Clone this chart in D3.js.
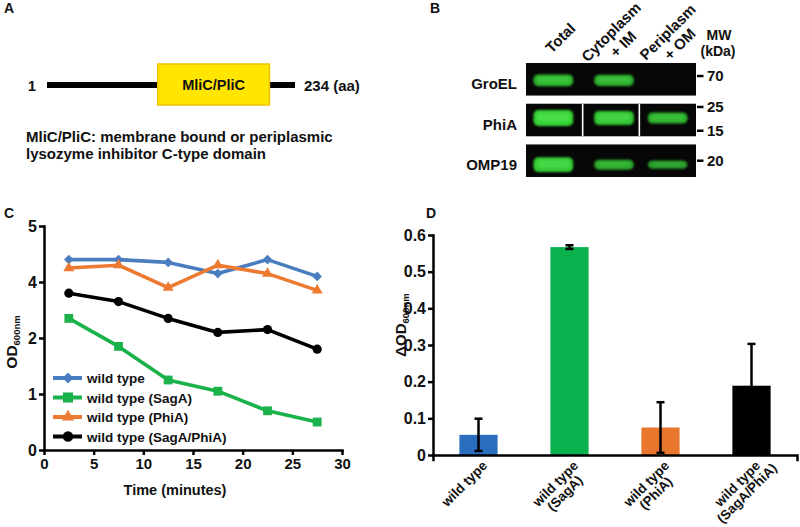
<!DOCTYPE html>
<html>
<head>
<meta charset="utf-8">
<script src="https://cdn.jsdelivr.net/npm/d3@7/dist/d3.min.js"></script>
<style>
  html,body{margin:0;padding:0;background:#fff;}
  svg{display:block;}
  text{font-family:Arial,"Liberation Sans",Helvetica,sans-serif;font-weight:bold;fill:#111;}
</style>
</head>
<body>
<svg id="fig" width="800" height="527"></svg>
<script>
// ================= DATA =================
// Panel A
const proteinLength = 234;
const domainName = "MliC/PliC";
const domainSpan = [105, 210];
const captionLines = ["MliC/PliC: membrane bound or periplasmic", "lysozyme inhibitor C-type domain"];

// Panel B
const blotLanes = ["Total", "Cytoplasm\n+ IM", "Periplasm\n+ OM"];
const blotRows = ["GroEL", "PhiA", "OMP19"];
const bandGroEL = [0.65, 0.6, 0];
const bandPhiA = [1, 0.85, 0.6];
const bandOMP19 = [0.9, 0.5, 0.35];
const mwLabels = ["70", "25", "15", "20"];

// Panel C (the reference axis is labelled 0, 1, 2, 4, 5 at even spacing)
const timeMinutes = [2.5, 7.5, 12.5, 17.5, 22.5, 27.5];
const odWildType = [4.4, 4.4, 4.35, 4.15, 4.4, 4.1];
const odSagA = [2.7, 1.85, 1.25, 1.05, 0.7, 0.5];
const odPhiA = [4.25, 4.3, 3.8, 4.3, 4.15, 3.7];
const odSagAPhiA = [3.6, 3.3, 2.7, 2.2, 2.3, 1.8];
const seriesNames = ["wild type", "wild type (SagA)", "wild type (PhiA)", "wild type (SagA/PhiA)"];
const timeTicks = [0, 5, 10, 15, 20, 25, 30];
const odTicks = [0, 1, 2, 4, 5];

// Panel D
const strainLabels = ["wild type", "wild type\n(SagA)", "wild type\n(PhiA)", "wild type\n(SagA/PhiA)"];
const deltaOD = [0.055, 0.567, 0.075, 0.189];
const deltaODErr = [0.044, 0.005, 0.069, 0.114];
const deltaTicks = [0, 0.1, 0.2, 0.3, 0.4, 0.5, 0.6];

// ================= STYLE =================
const seriesColors = ["#4a7dbf", "#1cb24b", "#ec7a30", "#000000"];
const barColors = ["#2a6ebd", "#0bb14c", "#e8762d", "#000000"];

const svg = d3.select("#fig");
const defs = svg.append("defs");
defs.append("filter").attr("id", "blur").attr("x", "-30%").attr("y", "-80%").attr("width", "160%").attr("height", "260%")
  .append("feGaussianBlur").attr("stdDeviation", 1.3);

// panel letters
const panelLetters = ["A", "B", "C", "D"];
const letterPos = [[4, 13], [430, 13], [4, 218], [426, 218]];
svg.selectAll("text.plabel").data(panelLetters).join("text").attr("class", "plabel")
  .attr("x", (d, i) => letterPos[i][0]).attr("y", (d, i) => letterPos[i][1])
  .attr("font-size", 14).text(d => d);

// ================= PANEL A =================
const gA = svg.append("g");
const xA = d3.scaleLinear().domain([1, proteinLength]).range([47, 295]);
gA.append("line").attr("x1", xA(1)).attr("x2", xA(proteinLength)).attr("y1", 85).attr("y2", 85)
  .attr("stroke", "#000").attr("stroke-width", 6);
gA.append("rect").attr("x", xA(domainSpan[0])).attr("y", 64)
  .attr("width", xA(domainSpan[1]) - xA(domainSpan[0])).attr("height", 41)
  .attr("fill", "#ffe500").attr("stroke", "#eec400").attr("stroke-width", 1.5);
gA.append("text").attr("x", (xA(domainSpan[0]) + xA(domainSpan[1])) / 2).attr("y", 90)
  .attr("text-anchor", "middle").attr("font-size", 14.5).text(domainName);
gA.append("text").attr("x", 36).attr("y", 90.5).attr("text-anchor", "end").attr("font-size", 15).text("1");
gA.append("text").attr("x", 304).attr("y", 90.5).attr("font-size", 15).text(proteinLength + " (aa)");
gA.selectAll("text.cap").data(captionLines).join("text").attr("class", "cap")
  .attr("x", 26).attr("y", (d, i) => 142 + i * 17.3).attr("font-size", 15).text(d => d);

// ================= PANEL B =================
const gB = svg.append("g");
const xB = d3.scaleBand().domain(blotLanes).range([526, 696]);
const yB = d3.scaleBand().domain(blotRows).range([63, 177]).paddingInner(0.2);
blotRows.forEach(r => {
  gB.append("rect").attr("x", 526).attr("y", yB(r)).attr("width", 170).attr("height", yB.bandwidth()).attr("fill", "#070707");
});
const bandSets = [bandGroEL, bandPhiA, bandOMP19];
const rowShift = [1, -2, 4];
const laneShift = [-1, 3, 0];
bandSets.forEach((set, ri) => {
  const rc = yB(blotRows[ri]) + yB.bandwidth() / 2 + rowShift[ri];
  set.forEach((v, li) => {
    if (v <= 0) return;
    const lc = xB(blotLanes[li]) + xB.bandwidth() / 2 + laneShift[li];
    const w = xB.bandwidth() * 0.7, h = 4 + 12 * v;
    gB.append("rect").attr("x", lc - w / 2).attr("y", rc - h / 2).attr("width", w).attr("height", h)
      .attr("rx", 5).attr("fill", "#36d336").attr("opacity", 0.55 + 0.45 * v).attr("filter", "url(#blur)");
    gB.append("rect").attr("x", lc - w * 0.4).attr("y", rc - h * 0.3).attr("width", w * 0.8).attr("height", h * 0.5)
      .attr("rx", 3).attr("fill", "#5fe85f").attr("opacity", 0.5 * v).attr("filter", "url(#blur)");
  });
});
// white separators in PhiA blot
blotLanes.slice(1).forEach(l => {
  gB.append("line").attr("x1", xB(l)).attr("x2", xB(l)).attr("y1", yB("PhiA")).attr("y2", yB("PhiA") + yB.bandwidth())
    .attr("stroke", "#fff").attr("stroke-width", 1.6);
});
gB.selectAll("text.row").data(blotRows).join("text").attr("class", "row")
  .attr("x", 517).attr("y", r => yB(r) + yB.bandwidth() / 2 + 9.5)
  .attr("text-anchor", "end").attr("font-size", 15).text(d => d);
const mwRow = ["GroEL", "PhiA", "PhiA", "OMP19"];
const mwFrac = [0.4, 0.1, 0.83, 0.5];
mwLabels.forEach((m, i) => {
  const y = yB(mwRow[i]) + yB.bandwidth() * mwFrac[i];
  gB.append("line").attr("x1", 697).attr("x2", 703.5).attr("y1", y).attr("y2", y).attr("stroke", "#000").attr("stroke-width", 2.5);
  gB.append("text").attr("x", 707).attr("y", y + 5.3).attr("font-size", 15).text(m);
});
gB.append("text").attr("x", 719).attr("y", 40).attr("text-anchor", "middle").attr("font-size", 14).text("MW");
gB.append("text").attr("x", 718).attr("y", 56).attr("text-anchor", "middle").attr("font-size", 14).text("(kDa)");
blotLanes.forEach(l => {
  const lines = l.split("\n");
  const cx = xB(l) + xB.bandwidth() / 2 + 6, cy = 38;
  const g = gB.append("g").attr("transform", `translate(${cx},${cy}) rotate(-45)`);
  lines.forEach((t, i) => g.append("text").attr("x", 0).attr("y", (i - (lines.length - 1) / 2) * 17 + 5.3)
    .attr("text-anchor", "middle").attr("font-size", 15).text(t));
});

// ================= PANEL C =================
const gC = svg.append("g");
const xC = d3.scaleLinear().domain([0, 30]).range([44, 342]);
// piecewise-linear scale: the labelled ticks 0,1,2,4,5 are evenly spaced in the reference
const yC = d3.scaleLinear().domain(odTicks).range(odTicks.map((d, i) => 450 - i * 56));

function styleAxis(g, fs) {
  g.select(".domain").attr("stroke", "#000").attr("stroke-width", 2.5).attr("stroke-linecap", "square");
  g.selectAll(".tick line").attr("stroke", "#000").attr("stroke-width", 2.5);
  g.selectAll(".tick text").attr("font-size", fs).attr("fill", "#111");
}
const seriesC = [
  { name: seriesNames[0], values: odWildType, color: seriesColors[0], sym: d3.symbolSquare, size: 46, rot: 45 },
  { name: seriesNames[1], values: odSagA, color: seriesColors[1], sym: d3.symbolSquare, size: 78, rot: 0 },
  { name: seriesNames[2], values: odPhiA, color: seriesColors[2], sym: d3.symbolTriangle, size: 52, rot: 0 },
  { name: seriesNames[3], values: odSagAPhiA, color: seriesColors[3], sym: d3.symbolCircle, size: 66, rot: 0 }
];
const lineC = d3.line().x((d, i) => xC(timeMinutes[i])).y(d => yC(d));
seriesC.forEach(s => {
  gC.append("path").datum(s.values).attr("d", lineC).attr("fill", "none").attr("stroke", s.color)
    .attr("stroke-width", 3.6).attr("stroke-linejoin", "round");
  gC.append("g").selectAll("path").data(s.values).join("path")
    .attr("transform", (d, i) => `translate(${xC(timeMinutes[i])},${yC(d)}) rotate(${s.rot})`)
    .attr("d", d3.symbol(s.sym, s.size)).attr("fill", s.color);
});
const axCx = gC.append("g").attr("transform", "translate(0,450)")
  .call(d3.axisBottom(xC).tickValues(timeTicks).tickSize(5).tickSizeOuter(0).tickPadding(3));
styleAxis(axCx, 15);
const axCy = gC.append("g").attr("transform", "translate(44,0)")
  .call(d3.axisLeft(yC).tickValues(odTicks).tickSize(5).tickSizeOuter(0).tickPadding(2).tickFormat(d3.format("d")));
styleAxis(axCy, 16);
// legend
seriesC.forEach((s, i) => {
  const y = 378 + i * 19.5;
  gC.append("line").attr("x1", 53).attr("x2", 82).attr("y1", y).attr("y2", y).attr("stroke", s.color).attr("stroke-width", 4);
  gC.append("path").attr("transform", `translate(68,${y}) rotate(${s.rot})`).attr("d", d3.symbol(s.sym, s.size * 1.3)).attr("fill", s.color);
  gC.append("text").attr("x", 87).attr("y", y + 5).attr("font-size", 13.5).text(s.name);
});
gC.append("text").attr("x", 175).attr("y", 495).attr("text-anchor", "middle").attr("font-size", 14.5).text("Time (minutes)");
const odLab = gC.append("text").attr("transform", "translate(17,342) rotate(-90)").attr("text-anchor", "middle");
odLab.append("tspan").attr("font-size", 15.5).text("OD");
odLab.append("tspan").attr("font-size", 9.5).attr("dy", 3).text("600nm");

// ================= PANEL D =================
const gD = svg.append("g");
const xD = d3.scaleBand().domain(strainLabels).range([433, 797]).paddingInner(0.58).paddingOuter(0.29);
const yD = d3.scaleLinear().domain([0, 0.6]).range([455, 235]);
gD.selectAll("rect.bar").data(deltaOD).join("rect").attr("class", "bar")
  .attr("x", (d, i) => xD(strainLabels[i])).attr("width", xD.bandwidth())
  .attr("y", d => yD(d)).attr("height", d => yD(0) - yD(d)).attr("fill", (d, i) => barColors[i]);
deltaOD.forEach((v, i) => {
  const cx = xD(strainLabels[i]) + xD.bandwidth() / 2;
  const lo = yD(v - deltaODErr[i]), hi = yD(v + deltaODErr[i]);
  gD.append("line").attr("x1", cx).attr("x2", cx).attr("y1", lo).attr("y2", hi).attr("stroke", "#000").attr("stroke-width", 2.5);
  [lo, hi].forEach(y => gD.append("line").attr("x1", cx - 4).attr("x2", cx + 4).attr("y1", y).attr("y2", y)
    .attr("stroke", "#000").attr("stroke-width", 2.5));
});
const axDy = gD.append("g").attr("transform", "translate(433,0)")
  .call(d3.axisLeft(yD).tickValues(deltaTicks).tickSize(5).tickSizeOuter(0).tickPadding(2)
    .tickFormat(d => d === 0 ? "0" : d3.format(".1f")(d)));
styleAxis(axDy, 16);
const axDx = gD.append("g").attr("transform", "translate(0,455)")
  .call(d3.axisBottom(xD).tickSize(0).tickSizeOuter(5).tickFormat(""));
styleAxis(axDx, 14);
strainLabels.forEach(l => {
  const lines = l.split("\n");
  const cx = xD(l) + xD.bandwidth() / 2 + 6;
  const g = gD.append("g").attr("transform", `translate(${cx},463) rotate(-45)`);
  const t0 = g.append("text").attr("x", 0).attr("y", 5).attr("text-anchor", "end").attr("font-size", 13.5).text(lines[0]);
  const w0 = t0.node().getComputedTextLength();
  lines.slice(1).forEach((t, i) => g.append("text").attr("x", -w0 / 2).attr("y", 5 + (i + 1) * 13.5)
    .attr("text-anchor", "middle").attr("font-size", 13.5).text(t));
});
const dLab = gD.append("text").attr("transform", "translate(406,325) rotate(-90)").attr("text-anchor", "middle");
dLab.append("tspan").attr("font-size", 15).text("ΔOD");
dLab.append("tspan").attr("font-size", 9.5).attr("dy", 3).text("600nm");
</script>
</body>
</html>
